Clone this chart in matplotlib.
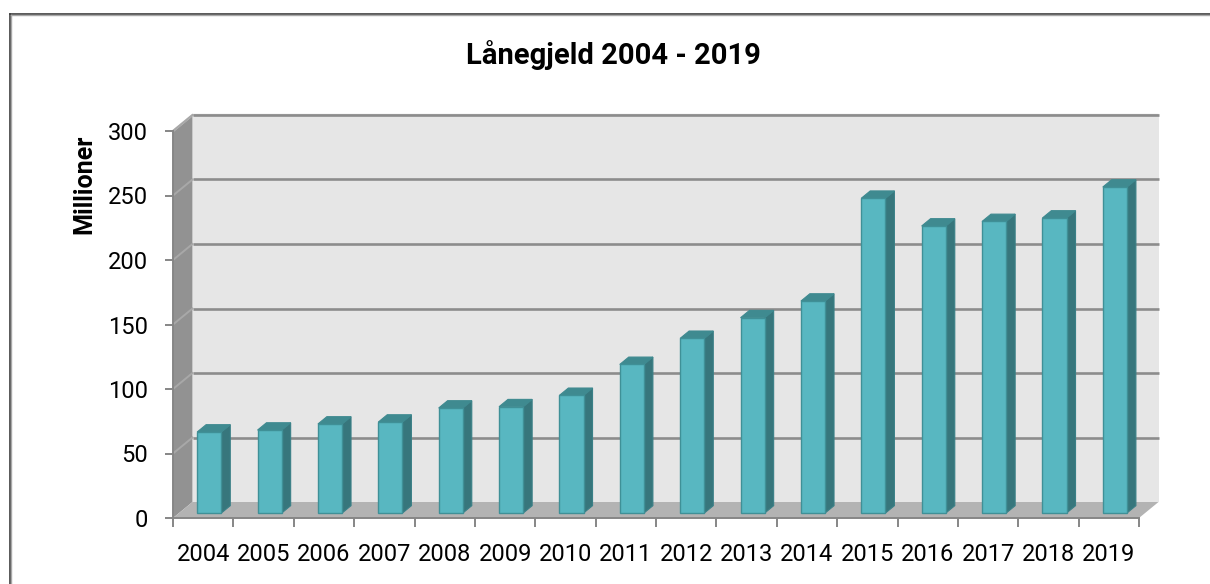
import matplotlib
matplotlib.use("Agg")
import matplotlib.pyplot as plt
from matplotlib.patches import Polygon, Rectangle
from matplotlib.lines import Line2D
import numpy as np

# ---- data ----
years = ["2004", "2005", "2006", "2007", "2008", "2009", "2010", "2011",
         "2012", "2013", "2014", "2015", "2016", "2017", "2018", "2019"]
values = [62.8, 64.3, 69.0, 70.5, 81.4, 82.4, 91.2, 115.2,
          135.4, 151.4, 164.3, 244.0, 222.5, 226.0, 228.7, 252.7]
yticks = [0, 50, 100, 150, 200, 250, 300]
title = "Lånegjeld 2004 - 2019"
ylabel = "Millioner"

W, H = 1210, 584
fig = plt.figure(figsize=(W / 100, H / 100), dpi=100)
fig.patch.set_facecolor("white")

# front plane axes
ax = fig.add_axes([173 / W, 66 / H, 966 / W, 387 / H])
n = len(years)
ax.set_xlim(-0.5, n - 0.5)
ax.set_ylim(0, 300)
ax.patch.set_visible(False)

cat_px = 966 / n
unit_px = 387 / 300
DX = 19.5 / cat_px
DY = 16 / unit_px
f0, f1 = 0.31, 0.77
bw = 0.4

x0, x1 = -0.5, n - 0.5
ymax = yticks[-1]

# walls
back = Polygon([(x0 + DX, DY), (x1 + DX, DY), (x1 + DX, ymax + DY), (x0 + DX, ymax + DY)],
               closed=True, facecolor="#E6E6E6", edgecolor="none", clip_on=False, zorder=0.5)
ax.add_patch(back)
side = Polygon([(x0, 0), (x0 + DX, DY), (x0 + DX, ymax + DY), (x0, ymax)],
               closed=True, facecolor="#929292", edgecolor="none", clip_on=False, zorder=0.6)
ax.add_patch(side)
floor = Polygon([(x0, 0), (x1, 0), (x1 + DX, DY), (x0 + DX, DY)],
                closed=True, facecolor="#B3B3B3", edgecolor="none", clip_on=False, zorder=0.7)
ax.add_patch(floor)
# wall top edges
ax.plot([x0, x0 + DX, x1 + DX], [ymax, ymax + DY, ymax + DY], color="#C4C4C4", lw=1.6,
        clip_on=False, zorder=0.9, solid_capstyle="butt")

# gridlines
for v in yticks[1:]:
    ax.plot([x0 + DX, x1 + DX], [v + DY, v + DY], color="#8C8C8C", lw=1.9, clip_on=False,
            zorder=1, solid_capstyle="butt")
    ax.plot([x0, x0 + DX], [v, v + DY], color="#A8A8A8", lw=1.4, clip_on=False, zorder=1)

# bars
xs = np.arange(n)
front_x = xs + f0 * DX
ax.bar(front_x, values, width=bw, bottom=f0 * DY, color="#58B7C1", edgecolor="#3F9097",
       linewidth=1.0, zorder=4, clip_on=False)
for i, v in enumerate(values):
    xr = i + bw / 2
    xl = i - bw / 2
    sidep = Polygon([(xr + f0 * DX, f0 * DY), (xr + f1 * DX, f1 * DY),
                     (xr + f1 * DX, v + f1 * DY), (xr + f0 * DX, v + f0 * DY)],
                    closed=True, facecolor="#37767C", edgecolor="#3A8087", lw=0.8,
                    clip_on=False, zorder=3)
    ax.add_patch(sidep)
    topp = Polygon([(xl + f0 * DX, v + f0 * DY), (xr + f0 * DX, v + f0 * DY),
                    (xr + f1 * DX, v + f1 * DY), (xl + f1 * DX, v + f1 * DY)],
                   closed=True, facecolor="#3F8A90", edgecolor="#3F8A90", lw=0.8,
                   clip_on=False, zorder=3)
    ax.add_patch(topp)

# spines / ticks
for s in ["top", "right"]:
    ax.spines[s].set_visible(False)
for s in ["left", "bottom"]:
    ax.spines[s].set_color("#868686")
    ax.spines[s].set_linewidth(1.4)
ax.set_yticks(yticks)
ax.set_yticklabels([str(t) for t in yticks], fontsize=17, family="Roboto", color="black")
ax.tick_params(axis="y", direction="out", length=6, width=1.4, color="#868686", pad=12)
ax.set_xticks(np.arange(-0.5, n, 1.0))
ax.set_xticklabels([])
ax.tick_params(axis="x", which="major", direction="out", length=6.5, width=1.4, color="#868686")
ax.set_xticks(xs, minor=True)
ax.set_xticklabels(years, minor=True, fontsize=17, family="Roboto", color="black")
ax.tick_params(axis="x", which="minor", length=0, pad=18)

# texts
fig.text(613 / W, 1 - 64.3 / H, title, ha="center", va="baseline", fontsize=21,
         fontweight="bold", family="Roboto")
fig.text(84 / W, 1 - 184 / H, ylabel, ha="center", va="center", rotation=90, fontsize=18,
         fontweight="bold", family="Roboto")

# border (top and left)
ty = 1 - 13.5 / H
lx = 9.5 / W
fig.add_artist(Line2D([lx, 1], [ty, ty], transform=fig.transFigure, color="#3C3C3C", lw=1.2))
fig.add_artist(Line2D([lx, lx], [0, ty], transform=fig.transFigure, color="#3C3C3C", lw=1.2))
fig.add_artist(Line2D([lx + 1.5 / W, 1], [ty - 1.5 / H, ty - 1.5 / H], transform=fig.transFigure,
                      color="#A8A8A8", lw=1.0))
fig.add_artist(Line2D([lx + 1.5 / W, lx + 1.5 / W], [0, ty - 1.5 / H], transform=fig.transFigure,
                      color="#A8A8A8", lw=1.0))

fig.savefig("out.png", dpi=100)
